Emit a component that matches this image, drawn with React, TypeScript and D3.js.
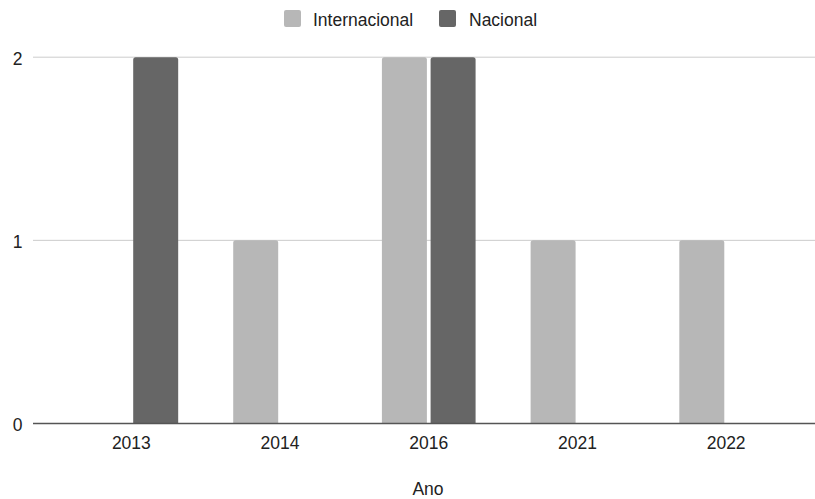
import React from "react";
import * as d3 from "d3";

const categories = ["2013", "2014", "2016", "2021", "2022"];
const seriesNames = ["Internacional", "Nacional"];
const internacional = [0, 1, 2, 1, 1];
const nacional = [2, 0, 2, 0, 0];
const yTicks = [0, 1, 2];
const colors = ["#b7b7b7", "#666666"];

const W = 815;
const H = 499;

function topRoundedBar(x: number, y: number, w: number, h: number, r: number) {
  const rr = Math.min(r, h, w / 2);
  return `M${x},${y + h}V${y + rr}Q${x},${y} ${x + rr},${y}H${x + w - rr}Q${x + w},${y} ${x + w},${y + rr}V${y + h}Z`;
}

export default function App() {
  const x0 = d3.scaleBand<string>().domain(categories).range([57, 800.5]);
  const x1 = d3
    .scaleBand<string>()
    .domain(seriesNames)
    .range([0, x0.bandwidth()])
    .paddingInner(0.076)
    .paddingOuter(0.565);
  const y = d3.scaleLinear().domain([0, 2]).range([423.5, 57.2]);
  const values = [internacional, nacional];
  const font = "'Liberation Sans', Arial, sans-serif";
  const fs = 17.5;

  return (
    <svg
      width={W}
      height={H}
      style={{ position: "absolute", left: 0, top: 0, background: "#fff" }}
      fontFamily={font}
    >
      {yTicks.map((t) =>
        t === 0 ? null : (
          <line key={"g" + t} x1={33} x2={815} y1={y(t)} y2={y(t)} stroke="#cccccc" strokeWidth={1} />
        )
      )}
      {yTicks.map((t) => (
        <text key={"yl" + t} x={22.5} y={y(t) + 7.5} textAnchor="end" fontSize={fs} fill="#222">
          {t}
        </text>
      ))}
      {categories.map((c, i) => (
        <g key={c} transform={`translate(${x0(c)},0)`}>
          {seriesNames.map((s, si) => {
            const v = values[si][i];
            if (!v) return null;
            const bx = x1(s)!;
            const by = y(v);
            return (
              <path
                key={s}
                d={topRoundedBar(bx, by, x1.bandwidth(), y(0) - by, 2.5)}
                fill={colors[si]}
              />
            );
          })}
        </g>
      ))}
      <line x1={33} x2={815} y1={y(0)} y2={y(0)} stroke="#555555" strokeWidth={1.5} />
      {categories.map((c) => (
        <text key={"xl" + c} x={x0(c)! + x0.bandwidth() / 2} y={448.5} textAnchor="middle" fontSize={fs} fill="#222">
          {c}
        </text>
      ))}
      <text x={428} y={495} textAnchor="middle" fontSize={fs} fill="#222">
        Ano
      </text>
      <rect x={284} y={10} width={17} height={17} rx={2} fill={colors[0]} />
      <text x={313} y={25.5} fontSize={fs} fill="#222">
        {seriesNames[0]}
      </text>
      <rect x={439} y={10} width={17} height={17} rx={2} fill={colors[1]} />
      <text x={469} y={25.5} fontSize={fs} fill="#222">
        {seriesNames[1]}
      </text>
    </svg>
  );
}
